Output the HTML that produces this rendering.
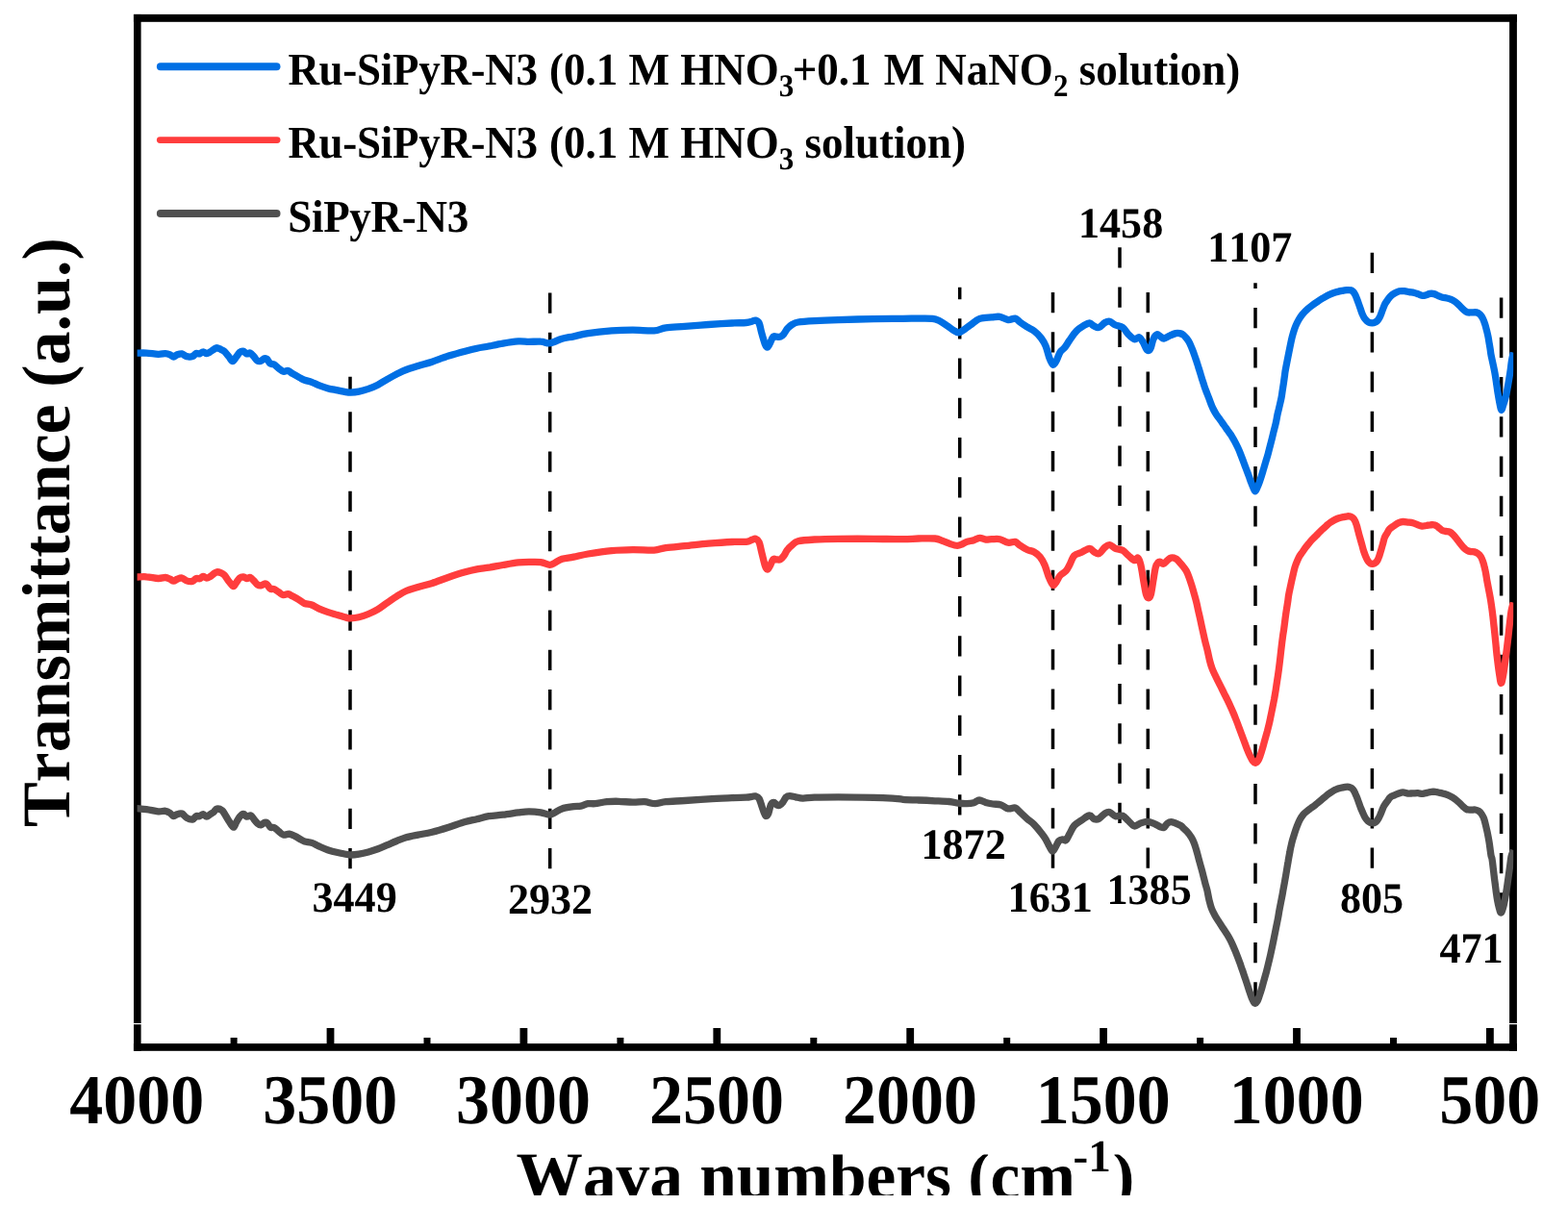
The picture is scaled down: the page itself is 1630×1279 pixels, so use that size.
<!DOCTYPE html>
<html lang="en"><head><meta charset="utf-8"><title>FTIR spectra</title>
<style>html,body{margin:0;padding:0;background:#fff;}body{width:1630px;height:1279px;overflow:hidden;}svg{display:block;}text{font-family:"Liberation Serif","DejaVu Serif",serif;font-weight:bold;fill:#000;font-kerning:none;font-variant-ligatures:none;text-rendering:geometricPrecision;white-space:pre;}</style></head><body>
<svg width="1630" height="1279" viewBox="0 0 1630 1279">
<rect width="1630" height="1279" fill="#fff"/>
<defs><clipPath id="plot"><rect x="142.6" y="19.0" width="1430.6" height="1070.2"/></clipPath><clipPath id="axclip"><rect x="0" y="1200.6" width="1630" height="42.4"/><rect x="1112" y="1175" width="43.5" height="40"/></clipPath></defs>
<g stroke="#000" stroke-width="3.5" stroke-dasharray="21.25 20.00" fill="none">
<line x1="364.0" y1="903.2" x2="364.0" y2="391.7"/>
<line x1="571.7" y1="903.2" x2="571.7" y2="303.6"/>
<line x1="997.7" y1="847.5" x2="997.7" y2="298.7"/>
<line x1="1094.5" y1="902.7" x2="1094.5" y2="303.6"/>
<line x1="1164.0" y1="856.0" x2="1164.0" y2="257.0"/>
<line x1="1193.3" y1="902.7" x2="1193.3" y2="302.9"/>
<line x1="1305.0" y1="1042.4" x2="1305.0" y2="294.3"/>
<line x1="1426.4" y1="902.7" x2="1426.4" y2="262.4"/>
<line x1="1560.6" y1="949.6" x2="1560.6" y2="309.0"/>
</g>
<g fill="#000">
<rect x="138.9" y="14.9" width="1438" height="7.9"/>
<rect x="138.9" y="1085.1" width="1438" height="7.7"/>
<rect x="139.0" y="14.9" width="7.6" height="1077.9"/>
<rect x="1569.1" y="14.9" width="7.8" height="1077.9"/>
<rect x="339.6" y="1069" width="7.8" height="18"/>
<rect x="540.5" y="1069" width="7.8" height="18"/>
<rect x="741.4" y="1069" width="7.8" height="18"/>
<rect x="942.3" y="1069" width="7.8" height="18"/>
<rect x="1143.2" y="1069" width="7.8" height="18"/>
<rect x="1344.1" y="1069" width="7.8" height="18"/>
<rect x="1545.0" y="1069" width="7.8" height="18"/>
<rect x="239.6" y="1079" width="7" height="8"/>
<rect x="440.5" y="1079" width="7" height="8"/>
<rect x="641.4" y="1079" width="7" height="8"/>
<rect x="842.3" y="1079" width="7" height="8"/>
<rect x="1043.2" y="1079" width="7" height="8"/>
<rect x="1244.1" y="1079" width="7" height="8"/>
<rect x="1445.0" y="1079" width="7" height="8"/>
</g>
<g fill="#fff"><rect x="138" y="1064" width="9" height="1.2"/><rect x="1568.5" y="1064" width="9" height="1.2"/></g>
<g fill="none" stroke-width="7.3" stroke-linejoin="round" stroke-linecap="butt" clip-path="url(#plot)">
<path stroke="#505050" d="M141.0,840.4C141.2,840.4 140.6,840.4 142.5,840.6C144.4,840.8 148.6,841.1 152.3,841.6C156.0,842.1 161.2,843.5 164.5,843.8C167.8,844.1 169.8,843.0 171.9,843.3C174.0,843.6 175.4,844.6 176.8,845.5C178.2,846.4 179.3,848.5 180.5,848.7C181.7,848.9 182.8,847.2 184.2,846.7C185.6,846.2 187.5,845.4 189.1,846.0C190.7,846.6 192.2,849.4 194.0,850.4C195.8,851.4 198.5,852.4 200.1,852.1C201.7,851.8 202.6,849.3 203.8,848.7C205.0,848.1 206.3,849.0 207.5,848.7C208.7,848.4 210.0,846.6 211.2,846.7C212.4,846.8 213.6,849.2 214.8,849.2C216.0,849.2 217.3,847.5 218.5,846.7C219.7,845.9 221.0,845.2 222.2,844.3C223.3,843.4 224.0,841.4 225.4,841.1C226.8,840.8 229.3,841.5 230.8,842.6C232.3,843.8 233.3,846.1 234.5,848.0C235.7,849.9 236.8,852.1 238.2,854.1C239.5,856.1 241.4,860.0 242.6,860.2C243.8,860.4 244.4,857.1 245.5,855.3C246.6,853.5 248.0,850.7 249.2,849.2C250.4,847.7 251.7,846.3 252.9,846.3C254.1,846.3 255.3,848.9 256.6,849.2C257.9,849.5 259.5,847.6 260.7,848.0C261.9,848.4 262.8,850.4 263.9,851.7C265.0,853.1 266.4,855.1 267.6,856.1C268.8,857.1 270.1,857.9 271.3,857.8C272.5,857.7 273.9,855.6 275.0,855.3C276.1,855.0 276.9,855.0 277.9,855.8C278.9,856.6 279.9,859.4 281.1,860.2C282.3,861.0 283.9,860.0 285.3,860.7C286.7,861.4 288.1,863.2 289.7,864.4C291.2,865.6 292.8,867.6 294.6,868.1C296.4,868.6 298.6,866.9 300.7,867.1C302.8,867.4 305.0,868.7 306.9,869.6C308.8,870.5 310.2,871.6 311.8,872.5C313.4,873.4 314.7,874.4 316.7,875.0C318.7,875.6 321.6,875.6 324.0,876.4C326.4,877.2 328.5,878.6 331.4,879.9C334.3,881.2 337.9,882.9 341.2,884.0C344.5,885.1 347.7,885.8 351.0,886.5C354.3,887.2 358.6,888.1 360.9,888.5C363.1,888.9 362.5,889.0 364.5,889.0C366.5,889.0 370.0,888.7 373.1,888.2C376.2,887.7 379.6,886.9 382.9,886.0C386.2,885.1 389.5,884.0 392.8,882.8C396.1,881.6 399.3,880.1 402.6,878.7C405.9,877.3 409.1,875.8 412.4,874.5C415.7,873.2 418.5,871.9 422.2,870.8C425.9,869.7 430.0,869.0 434.5,868.1C439.0,867.2 443.9,866.5 449.2,865.2C454.5,863.9 460.7,862.0 466.4,860.2C472.1,858.4 478.7,856.0 483.6,854.6C488.5,853.2 491.7,852.7 495.8,851.7C499.9,850.7 503.6,849.5 508.1,848.7C512.6,848.0 517.7,847.8 522.8,847.2C527.9,846.6 534.3,845.5 538.8,844.9C543.3,844.3 545.9,843.8 549.8,843.8C553.7,843.8 558.5,844.2 562.1,844.8C565.7,845.4 569.0,847.2 571.4,847.2C573.8,847.2 574.7,846.0 576.8,845.0C578.9,844.0 580.9,841.9 584.2,840.9C587.5,839.9 593.1,839.2 596.4,838.7C599.7,838.2 601.3,838.7 603.8,838.2C606.3,837.7 608.8,836.1 611.2,835.7C613.7,835.3 615.2,836.0 618.5,835.7C621.8,835.4 626.7,834.1 630.8,833.7C634.9,833.3 638.6,833.2 643.1,833.3C647.6,833.4 653.3,834.1 657.8,834.2C662.3,834.3 666.2,833.5 670.1,833.7C674.0,834.0 677.4,835.7 681.1,835.7C684.8,835.7 687.0,834.2 692.1,833.7C697.2,833.2 704.4,833.0 711.8,832.5C719.2,832.0 728.1,831.3 736.3,830.8C744.5,830.3 754.3,829.9 760.9,829.6C767.5,829.3 772.1,829.3 775.6,829.1C779.1,828.9 780.1,828.5 781.7,828.3C783.3,828.1 784.2,827.6 785.4,827.9C786.6,828.2 788.0,828.4 789.1,830.3C790.2,832.2 791.4,836.8 792.3,839.4C793.2,842.0 794.0,844.5 794.7,846.0C795.4,847.5 795.7,848.6 796.4,848.5C797.1,848.4 798.1,847.4 798.9,845.5C799.7,843.6 800.4,838.7 801.3,836.9C802.2,835.1 803.5,834.5 804.5,834.5C805.5,834.5 806.5,836.4 807.5,836.9C808.5,837.4 809.4,837.8 810.4,837.4C811.4,837.0 812.5,835.9 813.6,834.5C814.8,833.1 816.1,829.9 817.3,828.8C818.5,827.6 819.4,827.6 821.0,827.6C822.6,827.6 824.9,828.4 827.1,828.8C829.4,829.2 831.2,830.0 834.5,830.1C837.8,830.2 840.6,829.3 846.7,829.1C852.8,828.9 861.1,828.8 871.3,828.8C881.5,828.8 898.7,829.1 908.1,829.3C917.5,829.5 922.6,829.8 927.7,830.1C932.8,830.4 934.3,831.0 938.8,831.3C943.3,831.6 949.2,831.8 954.7,832.0C960.2,832.2 966.6,832.5 971.9,832.8C977.2,833.0 982.5,833.1 986.6,833.5C990.7,833.9 993.3,834.8 996.4,835.2C999.5,835.6 1002.3,835.8 1005.0,835.7C1007.7,835.6 1010.2,835.3 1012.4,834.7C1014.6,834.1 1016.0,832.0 1018.0,832.0C1020.0,832.0 1022.4,833.8 1024.7,834.5C1027.0,835.2 1029.3,835.6 1032.0,836.0C1034.7,836.4 1037.9,836.1 1040.6,836.9C1043.3,837.7 1045.5,840.4 1048.0,840.9C1050.5,841.4 1053.3,839.5 1055.3,840.1C1057.3,840.7 1058.2,842.4 1060.2,844.3C1062.2,846.1 1065.1,849.0 1067.6,851.2C1070.1,853.4 1072.5,854.8 1075.0,857.3C1077.5,859.8 1080.3,863.3 1082.3,865.9C1084.3,868.5 1085.8,870.4 1087.2,872.8C1088.6,875.2 1089.8,878.1 1090.9,880.1C1092.1,882.1 1093.1,884.8 1094.1,885.0C1095.1,885.2 1096.0,882.9 1097.1,881.1C1098.2,879.4 1099.5,875.9 1100.7,874.5C1101.9,873.1 1103.2,872.9 1104.4,872.8C1105.6,872.7 1106.9,874.7 1108.1,873.7C1109.3,872.8 1110.4,869.6 1111.8,867.1C1113.2,864.6 1114.7,860.8 1116.7,858.5C1118.7,856.2 1121.3,854.9 1124.0,853.1C1126.7,851.4 1130.3,848.2 1132.6,848.0C1134.8,847.8 1135.8,851.2 1137.5,851.7C1139.2,852.2 1140.7,852.2 1142.5,851.2C1144.3,850.2 1146.8,846.9 1148.6,845.8C1150.4,844.7 1151.7,844.0 1153.5,844.5C1155.3,845.0 1157.3,848.1 1159.6,848.7C1161.8,849.3 1164.8,847.4 1167.0,848.2C1169.2,849.0 1171.0,851.8 1173.1,853.6C1175.1,855.4 1177.2,858.6 1179.3,859.0C1181.3,859.4 1183.2,856.9 1185.4,856.1C1187.7,855.3 1190.3,854.3 1192.8,854.4C1195.2,854.5 1197.8,855.7 1200.1,856.6C1202.3,857.5 1204.7,859.1 1206.3,859.8C1207.9,860.4 1208.7,861.1 1209.9,860.5C1211.1,859.9 1212.2,857.1 1213.6,856.1C1215.0,855.1 1216.2,854.4 1218.5,854.8C1220.8,855.2 1225.6,857.6 1227.5,858.6C1229.4,859.6 1228.9,860.0 1230.0,861.0C1231.1,862.0 1232.5,863.1 1233.9,864.7C1235.3,866.3 1237.0,868.4 1238.3,870.4C1239.5,872.4 1240.5,874.6 1241.4,876.9C1242.3,879.2 1243.0,881.7 1243.8,884.4C1244.6,887.1 1245.3,890.1 1246.1,892.9C1246.9,895.7 1247.6,898.5 1248.4,901.3C1249.2,904.1 1250.0,907.0 1250.7,909.8C1251.4,912.6 1252.1,915.6 1252.8,918.2C1253.5,920.9 1254.2,922.8 1254.9,925.7C1255.6,928.6 1256.1,932.4 1256.9,935.6C1257.7,938.8 1258.5,942.2 1259.6,945.0C1260.7,947.8 1262.0,950.1 1263.3,952.5C1264.6,954.9 1266.1,956.9 1267.5,959.1C1268.9,961.3 1270.4,963.5 1271.8,965.7C1273.2,967.9 1274.7,970.0 1276.0,972.2C1277.3,974.4 1278.5,976.4 1279.7,978.8C1280.9,981.1 1281.9,983.8 1283.0,986.3C1284.1,988.8 1285.1,991.3 1286.1,993.8C1287.1,996.3 1288.0,998.8 1288.9,1001.3C1289.8,1003.8 1290.6,1006.3 1291.5,1008.8C1292.4,1011.3 1293.2,1013.9 1294.1,1016.4C1294.9,1018.9 1295.8,1021.4 1296.6,1023.9C1297.4,1026.4 1298.2,1029.1 1299.0,1031.4C1299.8,1033.7 1300.6,1036.2 1301.3,1037.9C1302.0,1039.6 1302.7,1040.8 1303.2,1041.7C1303.8,1042.6 1304.0,1043.5 1304.6,1043.4C1305.2,1043.3 1306.2,1042.6 1307.0,1041.2C1307.8,1039.8 1308.5,1037.4 1309.3,1035.1C1310.1,1032.8 1310.9,1030.2 1311.7,1027.6C1312.5,1024.9 1313.2,1022.0 1314.0,1019.2C1314.8,1016.4 1315.6,1013.7 1316.4,1010.7C1317.2,1007.7 1318.0,1004.4 1318.7,1001.3C1319.5,998.2 1320.2,995.1 1320.9,992.0C1321.6,988.9 1322.2,985.7 1322.9,982.6C1323.6,979.5 1324.2,976.3 1324.8,973.2C1325.4,970.1 1326.1,966.9 1326.7,963.8C1327.3,960.7 1328.0,957.5 1328.6,954.4C1329.2,951.3 1329.5,948.5 1330.2,945.0C1330.9,941.5 1331.8,936.8 1332.5,933.3C1333.2,929.8 1333.6,927.0 1334.2,923.9C1334.8,920.8 1335.4,917.6 1335.9,914.5C1336.5,911.4 1337.0,908.2 1337.5,905.1C1338.0,902.0 1338.5,898.8 1339.1,895.7C1339.6,892.6 1340.3,888.8 1340.8,886.3C1341.2,883.8 1341.3,883.1 1341.8,881.0C1342.3,878.9 1342.9,876.1 1343.6,873.6C1344.3,871.1 1345.0,868.8 1345.8,866.3C1346.6,863.8 1347.5,861.2 1348.4,858.9C1349.3,856.6 1350.2,854.3 1351.3,852.3C1352.3,850.3 1353.5,848.6 1354.7,847.1C1355.9,845.6 1357.3,844.6 1358.7,843.4C1360.1,842.2 1361.6,841.2 1363.1,840.1C1364.6,839.0 1366.0,838.0 1367.5,836.8C1369.0,835.6 1370.5,834.3 1372.0,833.1C1373.5,831.9 1374.9,830.6 1376.4,829.4C1377.9,828.2 1379.3,826.9 1380.8,825.8C1382.3,824.7 1383.7,823.7 1385.2,822.8C1386.7,821.9 1388.1,821.2 1389.6,820.6C1391.1,820.0 1392.5,819.7 1394.0,819.3C1395.5,818.9 1397.2,818.6 1398.5,818.4C1399.8,818.2 1401.0,818.1 1402.1,818.3C1403.2,818.5 1404.2,818.9 1405.1,819.5C1406.0,820.1 1406.6,821.1 1407.3,822.1C1408.0,823.1 1408.5,824.4 1409.1,825.8C1409.7,827.1 1410.4,828.6 1411.0,830.2C1411.6,831.8 1412.2,833.6 1412.8,835.3C1413.4,837.0 1414.0,838.8 1414.7,840.5C1415.4,842.2 1416.2,844.0 1416.9,845.6C1417.6,847.2 1418.3,848.8 1419.1,850.1C1419.9,851.4 1420.8,852.5 1421.7,853.4C1422.6,854.2 1423.4,854.8 1424.2,855.2C1425.0,855.6 1425.7,855.6 1426.4,855.7C1427.2,855.8 1428.0,855.9 1428.7,855.6C1429.5,855.3 1430.2,854.9 1430.9,854.1C1431.6,853.3 1432.4,852.0 1433.1,850.8C1433.8,849.6 1434.3,848.5 1434.9,847.1C1435.5,845.8 1436.1,844.2 1436.7,842.7C1437.3,841.2 1437.7,839.9 1438.6,838.3C1439.5,836.7 1441.1,834.6 1442.2,833.1C1443.3,831.6 1444.0,830.1 1445.2,829.1C1446.4,828.1 1448.1,827.6 1449.6,826.9C1451.1,826.2 1452.5,825.5 1454.0,825.0C1455.5,824.5 1456.8,823.9 1458.4,823.9C1460.0,823.9 1461.9,824.8 1463.6,825.0C1465.3,825.2 1467.0,824.9 1468.7,824.9C1470.4,824.9 1472.2,824.6 1473.9,824.7C1475.6,824.8 1477.4,825.5 1479.0,825.4C1480.6,825.3 1481.9,824.6 1483.4,824.3C1484.9,824.0 1486.4,823.5 1487.9,823.4C1489.4,823.2 1490.8,823.2 1492.3,823.4C1493.8,823.5 1495.2,824.0 1496.7,824.3C1498.2,824.6 1499.6,825.0 1501.1,825.4C1502.6,825.8 1504.0,826.3 1505.5,826.9C1507.0,827.5 1508.6,828.3 1509.9,829.1C1511.2,829.9 1512.4,830.7 1513.6,831.7C1514.8,832.7 1516.1,833.8 1517.3,835.0C1518.5,836.2 1519.8,837.6 1521.0,838.7C1522.2,839.8 1523.4,841.0 1524.7,841.6C1526.0,842.2 1527.6,842.0 1529.1,842.1C1530.6,842.2 1532.2,841.8 1533.5,842.0C1534.8,842.2 1536.1,842.7 1537.2,843.4C1538.3,844.1 1539.2,845.0 1540.1,846.4C1541.0,847.8 1542.0,849.5 1542.7,851.5C1543.4,853.5 1544.0,856.0 1544.5,858.2C1545.0,860.4 1545.5,862.6 1546.0,864.8C1546.5,867.0 1546.9,869.2 1547.3,871.4C1547.7,873.6 1548.1,875.8 1548.4,878.0C1548.7,880.2 1549.0,882.7 1549.3,884.7C1549.6,886.7 1549.8,888.6 1550.1,890.0C1550.4,891.4 1550.7,891.1 1551.0,893.0C1551.3,894.9 1551.8,898.7 1552.1,901.6C1552.4,904.5 1552.8,907.3 1553.1,910.2C1553.4,913.1 1553.8,915.9 1554.2,918.8C1554.6,921.7 1554.9,924.5 1555.3,927.4C1555.7,930.3 1556.1,933.3 1556.6,936.0C1557.1,938.7 1557.7,941.5 1558.3,943.7C1558.9,945.9 1559.6,949.2 1560.3,949.2C1561.0,949.2 1561.9,945.9 1562.6,943.7C1563.3,941.5 1563.8,938.7 1564.3,936.0C1564.8,933.3 1565.3,930.3 1565.8,927.4C1566.3,924.5 1566.7,921.7 1567.1,918.8C1567.5,915.9 1567.9,913.1 1568.3,910.2C1568.7,907.3 1569.1,904.5 1569.5,901.6C1569.9,898.7 1570.3,895.1 1570.6,893.0C1570.9,890.9 1571.0,890.5 1571.5,889.0C1572.0,887.5 1573.0,884.8 1573.3,884.0"/>
<path stroke="#ff3d3d" d="M141.0,600.0C141.2,600.0 140.6,600.0 142.5,600.0C144.4,600.0 148.6,599.5 152.3,599.8C156.0,600.0 161.2,601.4 164.5,601.5C167.8,601.6 169.8,600.4 171.9,600.5C174.0,600.6 175.4,601.6 176.8,602.2C178.2,602.8 179.3,604.2 180.5,604.2C181.7,604.2 182.8,602.7 184.2,602.2C185.6,601.7 187.5,600.7 189.1,601.0C190.7,601.3 192.2,603.3 194.0,603.9C195.8,604.5 198.5,604.8 200.1,604.4C201.7,604.0 202.6,602.0 203.8,601.5C205.0,601.0 206.3,602.0 207.5,601.7C208.7,601.4 210.0,599.6 211.2,599.5C212.4,599.4 213.6,601.0 214.8,601.0C216.0,601.0 217.3,600.2 218.5,599.5C219.7,598.8 221.0,597.4 222.2,596.6C223.3,595.8 224.2,595.0 225.4,594.8C226.6,594.6 228.3,595.1 229.6,595.6C230.9,596.1 231.9,596.5 233.3,598.0C234.7,599.5 236.6,603.0 238.2,604.9C239.8,606.8 241.4,609.4 242.6,609.6C243.8,609.8 244.4,607.3 245.5,605.9C246.6,604.5 248.0,602.0 249.2,601.0C250.4,600.0 251.7,599.7 252.9,599.8C254.1,599.9 255.4,601.4 256.6,601.5C257.8,601.6 259.0,600.1 260.2,600.5C261.4,600.9 262.7,602.7 263.9,603.9C265.1,605.1 266.4,607.1 267.6,607.9C268.8,608.7 270.1,608.9 271.3,608.8C272.5,608.7 274.0,607.3 275.0,607.1C276.0,606.9 276.4,606.7 277.4,607.6C278.4,608.5 279.9,611.5 281.1,612.3C282.3,613.1 283.4,611.9 284.8,612.5C286.2,613.1 288.1,614.7 289.7,615.7C291.3,616.7 293.0,618.4 294.6,618.7C296.2,619.0 297.9,617.5 299.5,617.7C301.1,617.9 302.3,619.0 304.4,620.1C306.4,621.2 309.8,623.1 311.8,624.3C313.9,625.5 314.7,626.7 316.7,627.5C318.7,628.3 321.6,628.1 324.0,629.0C326.4,629.9 328.5,631.6 331.4,632.9C334.3,634.2 337.9,635.5 341.2,636.6C344.5,637.7 347.7,638.5 351.0,639.5C354.3,640.5 358.6,641.9 360.9,642.5C363.1,643.1 362.5,643.0 364.5,642.9C366.5,642.8 370.0,642.4 373.1,641.7C376.2,641.0 379.6,639.9 382.9,638.5C386.2,637.1 389.5,635.6 392.8,633.6C396.1,631.6 399.3,629.0 402.6,626.7C405.9,624.5 409.1,622.1 412.4,620.1C415.7,618.1 418.5,616.1 422.2,614.5C425.9,612.9 430.0,612.0 434.5,610.6C439.0,609.2 443.9,608.1 449.2,606.4C454.5,604.7 460.7,602.1 466.4,600.2C472.1,598.3 478.7,596.2 483.6,594.8C488.5,593.4 491.7,592.7 495.8,591.9C499.9,591.1 503.6,590.9 508.1,590.2C512.6,589.5 517.7,588.4 522.8,587.5C527.9,586.6 534.3,585.4 538.8,584.9C543.3,584.4 545.9,584.4 549.8,584.4C553.7,584.4 558.5,584.1 562.1,584.6C565.7,585.1 569.0,587.2 571.4,587.3C573.8,587.4 574.7,586.3 576.8,585.3C578.9,584.3 580.9,582.2 584.2,581.2C587.5,580.2 591.9,580.1 596.4,579.2C600.9,578.3 604.7,577.1 611.2,576.0C617.8,574.9 627.9,573.3 635.7,572.6C643.5,571.9 650.4,571.7 657.8,571.6C665.2,571.5 674.2,572.4 679.9,572.1C685.6,571.8 686.8,570.3 692.1,569.6C697.4,568.9 704.4,568.4 711.8,567.7C719.2,567.0 728.1,565.9 736.3,565.2C744.5,564.5 754.3,563.8 760.9,563.5C767.5,563.2 772.1,563.7 775.6,563.3C779.1,562.9 780.1,561.8 781.7,561.3C783.3,560.8 784.2,559.9 785.4,560.3C786.6,560.7 788.1,561.6 789.1,563.7C790.1,565.8 790.5,569.1 791.5,573.1C792.5,577.1 794.2,584.6 795.2,587.8C796.2,590.9 796.9,591.8 797.7,592.0C798.5,592.2 799.1,590.7 800.1,589.0C801.1,587.3 802.6,582.9 803.8,581.7C805.0,580.5 806.3,581.9 807.5,581.9C808.7,581.9 810.0,582.4 811.2,581.7C812.4,581.1 813.6,579.6 814.8,578.0C816.0,576.4 817.1,573.6 818.5,571.8C819.9,569.9 821.5,568.4 823.4,566.9C825.2,565.4 825.7,563.8 829.6,562.8C833.5,561.8 839.8,561.4 846.7,561.0C853.7,560.6 861.1,560.4 871.3,560.3C881.5,560.2 896.9,560.2 908.1,560.3C919.4,560.4 931.0,560.8 938.8,560.7C946.6,560.7 949.2,560.1 954.7,560.0C960.2,559.9 967.8,559.6 971.9,560.0C976.0,560.4 976.6,561.3 979.3,562.2C982.0,563.1 985.2,564.7 987.9,565.6C990.5,566.5 993.2,567.4 995.2,567.4C997.2,567.4 998.5,566.6 1000.1,565.9C1001.7,565.2 1003.0,564.1 1005.0,563.4C1007.0,562.7 1010.1,562.4 1012.4,561.7C1014.6,561.0 1016.5,559.4 1018.5,559.3C1020.5,559.2 1022.7,560.8 1024.7,561.0C1026.8,561.2 1028.3,560.8 1030.8,560.7C1033.2,560.7 1036.5,560.1 1039.4,560.7C1042.3,561.3 1045.3,563.8 1048.0,564.2C1050.7,564.7 1053.3,562.9 1055.3,563.4C1057.3,563.9 1058.2,565.8 1060.2,567.1C1062.2,568.5 1065.1,570.4 1067.6,571.5C1070.1,572.6 1072.8,572.8 1075.0,574.0C1077.2,575.2 1079.3,576.6 1081.1,578.9C1082.9,581.1 1084.5,584.0 1086.0,587.5C1087.5,591.0 1088.8,596.3 1090.2,599.8C1091.6,603.3 1093.2,607.5 1094.6,608.3C1095.9,609.1 1097.1,606.3 1098.3,604.7C1099.5,603.1 1100.4,600.4 1102.0,598.5C1103.6,596.6 1106.5,595.4 1108.1,593.6C1109.7,591.8 1110.4,590.1 1111.8,587.5C1113.2,584.9 1114.7,579.9 1116.7,577.7C1118.7,575.5 1121.3,575.7 1124.0,574.5C1126.7,573.3 1130.3,570.4 1132.6,570.3C1134.8,570.2 1135.8,573.1 1137.5,574.0C1139.2,574.9 1140.7,576.5 1142.5,575.7C1144.3,574.9 1146.8,570.6 1148.6,569.1C1150.4,567.6 1151.7,566.4 1153.5,566.6C1155.3,566.8 1157.3,569.3 1159.6,570.3C1161.8,571.2 1164.8,571.1 1167.0,572.3C1169.2,573.5 1171.0,576.0 1173.1,577.7C1175.1,579.4 1177.7,582.2 1179.3,582.6C1180.9,583.0 1181.8,579.3 1182.9,580.1C1184.0,580.9 1184.9,583.2 1185.9,587.5C1186.9,591.8 1188.2,600.8 1189.1,605.9C1190.0,611.0 1190.7,615.6 1191.5,618.2C1192.3,620.9 1193.2,621.8 1194.0,621.8C1194.8,621.8 1195.6,621.3 1196.4,618.2C1197.2,615.1 1198.1,608.1 1198.9,603.4C1199.7,598.7 1200.5,593.0 1201.3,589.9C1202.1,586.8 1203.0,585.9 1203.8,585.0C1204.6,584.1 1205.4,584.1 1206.3,584.3C1207.2,584.5 1208.2,586.6 1209.4,586.3C1210.6,586.0 1212.3,583.6 1213.6,582.6C1214.9,581.6 1215.9,580.4 1217.3,580.1C1218.7,579.8 1220.8,580.2 1222.2,580.9C1223.7,581.6 1224.7,583.0 1226.0,584.4C1227.3,585.8 1228.8,587.5 1230.0,589.1C1231.2,590.7 1232.3,591.9 1233.3,593.8C1234.3,595.7 1235.2,597.9 1236.1,600.4C1237.0,602.9 1238.0,606.0 1238.9,608.8C1239.8,611.6 1240.5,614.5 1241.3,617.3C1242.1,620.1 1242.9,622.9 1243.6,625.7C1244.3,628.5 1244.9,631.4 1245.5,634.2C1246.1,637.0 1246.8,639.8 1247.4,642.6C1248.0,645.4 1248.6,648.2 1249.2,651.0C1249.8,653.8 1250.5,656.7 1251.1,659.5C1251.7,662.3 1252.3,665.1 1253.0,667.9C1253.7,670.7 1254.4,673.1 1255.2,676.4C1256.0,679.7 1256.9,684.4 1257.7,687.5C1258.5,690.6 1259.1,692.6 1260.0,695.0C1260.9,697.4 1261.9,699.4 1262.9,701.6C1263.9,703.8 1265.0,706.0 1266.1,708.2C1267.2,710.4 1268.3,712.5 1269.4,714.7C1270.5,716.9 1271.6,719.1 1272.7,721.3C1273.8,723.5 1274.9,725.6 1276.0,727.9C1277.1,730.2 1278.2,732.5 1279.3,734.9C1280.4,737.2 1281.4,739.6 1282.4,742.0C1283.4,744.4 1284.4,747.0 1285.4,749.5C1286.4,752.0 1287.3,754.5 1288.2,757.0C1289.1,759.5 1290.1,762.0 1291.0,764.5C1291.9,767.0 1292.9,769.5 1293.8,772.0C1294.7,774.5 1295.6,777.1 1296.6,779.5C1297.5,781.9 1298.5,784.1 1299.5,786.1C1300.5,788.1 1301.4,790.0 1302.3,791.2C1303.2,792.4 1304.0,793.5 1304.9,793.4C1305.8,793.3 1307.0,792.2 1307.9,790.8C1308.8,789.4 1309.5,787.3 1310.3,785.1C1311.1,782.9 1311.8,780.2 1312.6,777.6C1313.4,775.0 1314.1,772.0 1314.9,769.2C1315.7,766.4 1316.5,763.5 1317.3,760.7C1318.0,757.9 1318.8,755.1 1319.4,752.3C1320.1,749.5 1320.6,746.6 1321.2,743.8C1321.8,741.0 1322.3,738.2 1322.9,735.4C1323.5,732.6 1324.0,729.9 1324.6,726.9C1325.1,723.9 1325.7,720.6 1326.2,717.5C1326.7,714.4 1327.1,711.3 1327.6,708.2C1328.1,705.1 1328.6,701.9 1329.0,698.8C1329.4,695.7 1329.5,695.3 1330.2,689.4C1330.9,683.5 1332.5,669.2 1333.3,663.3C1334.0,657.4 1334.3,657.0 1334.7,653.9C1335.1,650.8 1335.5,647.6 1335.9,644.5C1336.3,641.4 1336.7,638.2 1337.2,635.1C1337.7,632.0 1338.2,628.8 1338.7,625.7C1339.2,622.6 1339.0,621.6 1340.1,616.3C1341.2,610.9 1343.9,598.6 1345.1,593.6C1346.3,588.6 1346.4,588.6 1347.3,586.3C1348.2,584.0 1349.2,581.6 1350.2,579.6C1351.2,577.6 1352.4,576.2 1353.6,574.5C1354.8,572.8 1355.9,571.0 1357.2,569.3C1358.5,567.6 1360.0,565.8 1361.3,564.2C1362.6,562.6 1363.9,561.3 1365.3,559.8C1366.7,558.3 1368.3,556.8 1369.8,555.3C1371.3,553.8 1372.7,552.3 1374.2,550.9C1375.7,549.5 1377.1,548.2 1378.6,546.9C1380.1,545.6 1381.5,544.2 1383.0,543.2C1384.5,542.2 1385.9,541.3 1387.4,540.6C1388.9,539.9 1390.3,539.3 1391.8,538.8C1393.3,538.3 1394.8,538.0 1396.3,537.7C1397.8,537.4 1399.5,536.9 1400.7,536.8C1401.9,536.7 1402.6,536.8 1403.6,537.1C1404.6,537.4 1405.7,538.0 1406.6,538.8C1407.5,539.6 1408.1,540.7 1408.8,542.1C1409.5,543.5 1410.0,545.4 1410.6,547.2C1411.1,549.0 1411.5,551.0 1412.1,553.1C1412.6,555.2 1413.3,557.6 1413.9,559.8C1414.5,562.0 1415.2,564.2 1415.8,566.4C1416.4,568.6 1416.9,570.9 1417.6,573.0C1418.3,575.1 1419.1,577.2 1419.8,578.9C1420.5,580.6 1421.2,582.1 1422.0,583.3C1422.8,584.5 1423.8,585.4 1424.6,585.9C1425.4,586.4 1426.0,586.4 1426.8,586.3C1427.6,586.2 1428.5,586.1 1429.4,585.5C1430.3,584.9 1431.3,583.8 1432.0,582.6C1432.7,581.4 1433.2,579.9 1433.8,578.2C1434.4,576.5 1435.0,574.4 1435.6,572.3C1436.2,570.2 1436.9,567.8 1437.5,565.6C1438.1,563.4 1438.6,560.8 1439.3,559.0C1440.0,557.2 1440.9,556.1 1441.8,554.6C1442.7,553.1 1443.2,551.5 1444.4,550.2C1445.6,548.9 1447.2,548.0 1448.8,546.9C1450.4,545.8 1452.4,544.3 1454.0,543.6C1455.6,542.9 1456.8,542.6 1458.4,542.5C1460.0,542.4 1461.9,542.8 1463.6,543.0C1465.3,543.2 1467.1,543.3 1468.7,543.7C1470.3,544.1 1471.5,544.8 1473.1,545.4C1474.7,546.0 1476.7,546.9 1478.3,547.1C1479.9,547.3 1481.2,546.7 1482.7,546.5C1484.2,546.3 1485.6,545.9 1487.1,545.8C1488.6,545.7 1490.2,545.5 1491.5,545.9C1492.8,546.3 1494.0,547.4 1495.2,548.3C1496.4,549.2 1497.7,550.6 1498.9,551.3C1500.1,552.0 1501.2,552.1 1502.6,552.4C1503.9,552.7 1505.7,552.5 1507.0,553.1C1508.3,553.7 1509.5,554.9 1510.7,556.1C1511.9,557.3 1513.2,559.0 1514.4,560.5C1515.6,562.0 1516.8,563.8 1518.0,565.3C1519.2,566.8 1520.5,568.5 1521.7,569.7C1522.9,570.9 1524.2,572.0 1525.4,572.6C1526.6,573.2 1527.9,573.4 1529.1,573.6C1530.3,573.8 1531.6,573.6 1532.8,573.9C1534.0,574.2 1535.3,574.8 1536.4,575.6C1537.5,576.4 1538.5,577.5 1539.4,578.9C1540.3,580.3 1540.9,582.0 1541.6,584.0C1542.3,586.0 1542.9,588.4 1543.4,590.7C1544.0,593.0 1544.5,595.7 1544.9,598.0C1545.3,600.3 1545.3,601.0 1546.0,604.7C1546.7,608.5 1548.2,616.2 1549.0,620.5C1549.8,624.8 1550.1,627.3 1550.6,630.7C1551.1,634.1 1551.5,637.4 1551.9,640.8C1552.3,644.2 1552.6,647.6 1553.0,651.0C1553.4,654.4 1553.8,657.8 1554.1,661.2C1554.4,664.6 1554.8,667.9 1555.1,671.3C1555.4,674.7 1555.7,678.1 1556.1,681.5C1556.5,684.9 1556.9,688.4 1557.3,691.6C1557.7,694.8 1558.1,697.7 1558.6,700.8C1559.1,703.9 1559.8,710.2 1560.5,710.4C1561.2,710.6 1562.1,704.9 1562.7,701.8C1563.3,698.7 1563.7,695.0 1564.2,691.6C1564.7,688.2 1565.1,684.9 1565.5,681.5C1565.9,678.1 1566.4,674.7 1566.8,671.3C1567.2,667.9 1567.6,664.6 1568.0,661.2C1568.4,657.8 1568.7,654.4 1569.1,651.0C1569.5,647.6 1569.9,643.6 1570.3,640.8C1570.7,638.0 1570.8,636.4 1571.3,634.0C1571.8,631.6 1573.0,627.8 1573.3,626.5"/>
<path stroke="#006fe4" d="M141.0,367.1C141.2,367.1 140.6,367.1 142.5,367.1C144.4,367.1 148.6,366.9 152.3,367.1C156.0,367.3 161.2,368.2 164.5,368.3C167.8,368.4 169.8,367.5 171.9,367.6C174.0,367.7 175.4,368.2 176.8,368.8C178.2,369.4 179.3,371.0 180.5,371.0C181.7,371.0 182.8,369.3 184.2,368.8C185.6,368.3 187.5,367.6 189.1,367.9C190.7,368.2 192.2,370.2 194.0,370.6C195.8,371.1 198.5,371.1 200.1,370.6C201.7,370.1 202.6,367.8 203.8,367.4C205.0,366.9 206.3,368.1 207.5,367.9C208.7,367.6 210.0,365.9 211.2,365.9C212.4,365.8 213.6,367.6 214.8,367.6C216.0,367.6 217.3,366.6 218.5,365.9C219.7,365.2 221.0,364.1 222.2,363.4C223.3,362.7 224.2,361.7 225.4,361.7C226.6,361.7 228.3,362.8 229.6,363.4C230.9,364.0 231.9,364.1 233.3,365.4C234.7,366.7 236.8,369.6 238.2,371.3C239.6,373.0 240.6,375.7 241.8,375.7C243.0,375.7 244.3,372.9 245.5,371.3C246.7,369.8 248.0,367.4 249.2,366.4C250.4,365.4 251.7,364.9 252.9,365.2C254.1,365.4 255.4,367.6 256.6,367.9C257.8,368.2 259.0,366.6 260.2,367.1C261.4,367.6 262.7,369.5 263.9,370.8C265.1,372.1 266.4,374.5 267.6,375.2C268.8,375.9 270.1,375.6 271.3,375.2C272.5,374.8 274.0,373.1 275.0,372.8C276.0,372.5 276.4,372.4 277.4,373.3C278.4,374.2 279.9,377.3 281.1,378.2C282.3,379.1 283.4,378.1 284.8,378.9C286.2,379.7 288.1,381.9 289.7,383.1C291.3,384.3 293.0,385.9 294.6,386.3C296.2,386.7 297.9,385.1 299.5,385.5C301.1,385.9 302.3,387.5 304.4,388.7C306.4,389.9 309.8,391.8 311.8,392.9C313.9,394.0 314.7,394.6 316.7,395.3C318.7,396.0 321.6,396.4 324.0,397.3C326.4,398.2 328.5,399.6 331.4,400.7C334.3,401.8 337.9,403.0 341.2,403.9C344.5,404.8 347.7,405.2 351.0,405.9C354.3,406.6 358.6,407.5 360.9,407.9C363.1,408.3 362.5,408.2 364.5,408.1C366.5,408.0 370.0,407.7 373.1,407.1C376.2,406.5 379.6,405.5 382.9,404.4C386.2,403.2 389.5,401.9 392.8,400.2C396.1,398.5 399.3,396.3 402.6,394.4C405.9,392.5 409.1,390.6 412.4,389.0C415.7,387.4 418.5,385.9 422.2,384.5C425.9,383.1 430.0,382.0 434.5,380.6C439.0,379.2 443.9,377.9 449.2,376.2C454.5,374.4 460.7,371.9 466.4,370.1C472.1,368.3 478.7,366.5 483.6,365.2C488.5,363.9 491.7,363.1 495.8,362.2C499.9,361.3 503.6,360.9 508.1,360.0C512.6,359.1 517.7,358.0 522.8,357.1C527.9,356.2 534.3,355.2 538.8,354.9C543.3,354.6 545.9,355.3 549.8,355.4C553.7,355.4 558.6,354.9 562.1,355.2C565.6,355.4 568.2,356.9 570.7,356.9C573.2,356.9 574.5,356.0 576.8,355.2C579.0,354.4 580.9,353.1 584.2,352.2C587.5,351.3 591.9,350.7 596.4,349.8C600.9,348.9 604.7,347.6 611.2,346.6C617.8,345.6 627.9,344.5 635.7,343.9C643.5,343.3 650.4,343.1 657.8,343.1C665.2,343.1 674.2,344.3 679.9,343.9C685.6,343.5 686.8,341.6 692.1,340.9C697.4,340.1 704.4,340.0 711.8,339.4C719.2,338.8 728.1,338.1 736.3,337.5C744.5,336.9 754.3,336.3 760.9,336.0C767.5,335.7 772.1,335.8 775.6,335.5C779.1,335.2 780.1,334.7 781.7,334.3C783.3,333.9 784.2,332.8 785.4,333.1C786.6,333.4 788.1,334.0 789.1,336.0C790.1,338.0 790.5,341.7 791.5,345.3C792.5,348.9 794.2,355.0 795.2,357.6C796.2,360.2 796.9,361.0 797.7,361.0C798.5,361.0 799.1,359.4 800.1,357.6C801.1,355.8 802.6,351.4 803.8,350.2C805.0,349.0 806.3,350.2 807.5,350.2C808.7,350.2 810.0,350.7 811.2,350.2C812.4,349.7 813.6,348.7 814.8,347.3C816.0,345.9 817.1,343.3 818.5,341.7C819.9,340.1 821.5,338.6 823.4,337.5C825.2,336.4 825.7,335.6 829.6,335.0C833.5,334.4 839.8,334.0 846.7,333.6C853.7,333.2 861.1,332.9 871.3,332.6C881.5,332.3 896.9,331.8 908.1,331.6C919.4,331.4 931.0,331.5 938.8,331.4C946.6,331.3 949.6,331.1 954.7,331.1C959.8,331.1 965.7,330.9 969.4,331.3C973.1,331.8 974.3,332.6 976.8,333.8C979.3,335.0 981.8,336.9 984.2,338.5C986.7,340.1 989.5,342.4 991.5,343.6C993.5,344.8 994.8,345.8 996.4,345.8C998.0,345.8 999.2,344.7 1001.3,343.4C1003.3,342.1 1005.8,340.0 1008.7,338.0C1011.6,336.0 1014.8,332.7 1018.5,331.3C1022.2,329.9 1027.3,330.2 1030.8,329.9C1034.3,329.6 1036.5,328.9 1039.4,329.4C1042.3,329.8 1045.3,332.3 1048.0,332.6C1050.7,332.9 1053.3,330.7 1055.3,331.1C1057.3,331.5 1058.2,333.3 1060.2,334.8C1062.2,336.3 1065.1,338.3 1067.6,339.9C1070.1,341.4 1072.5,342.2 1075.0,344.1C1077.5,346.0 1080.3,348.8 1082.3,351.5C1084.3,354.2 1085.8,356.6 1087.2,360.1C1088.6,363.6 1089.7,369.1 1090.9,372.3C1092.1,375.5 1093.4,378.8 1094.6,379.2C1095.8,379.6 1097.1,377.0 1098.3,374.8C1099.5,372.6 1100.6,368.4 1102.0,366.2C1103.4,363.9 1105.3,363.4 1106.9,361.3C1108.5,359.2 1109.8,356.8 1111.8,353.9C1113.8,351.0 1116.6,346.6 1119.1,344.1C1121.5,341.6 1124.2,340.1 1126.5,338.7C1128.8,337.3 1130.8,335.9 1132.6,336.0C1134.4,336.1 1135.8,338.5 1137.5,339.2C1139.2,339.9 1140.7,341.0 1142.5,340.4C1144.3,339.8 1146.8,336.5 1148.6,335.5C1150.4,334.5 1151.7,333.9 1153.5,334.3C1155.3,334.7 1157.3,337.0 1159.6,338.0C1161.8,339.0 1164.8,338.8 1167.0,340.4C1169.2,342.0 1171.0,345.8 1173.1,347.8C1175.1,349.9 1177.4,352.2 1179.3,352.7C1181.2,353.2 1182.8,350.3 1184.2,350.7C1185.6,351.1 1186.7,353.2 1187.9,355.2C1189.1,357.2 1190.5,360.9 1191.5,362.5C1192.5,364.1 1193.2,364.7 1194.0,364.5C1194.8,364.3 1195.6,363.3 1196.4,361.3C1197.2,359.3 1197.9,354.9 1198.9,352.7C1199.9,350.4 1201.4,348.3 1202.6,347.8C1203.8,347.3 1205.1,349.1 1206.3,349.8C1207.5,350.5 1208.3,352.1 1209.9,352.0C1211.5,351.9 1214.0,349.9 1216.1,349.0C1218.1,348.1 1220.5,347.0 1222.2,346.6C1223.9,346.2 1225.2,346.4 1226.5,346.6C1227.8,346.9 1228.9,347.3 1230.0,348.1C1231.1,348.9 1232.0,350.0 1233.1,351.3C1234.1,352.6 1235.3,354.2 1236.3,356.0C1237.3,357.8 1238.1,360.0 1239.0,362.2C1239.9,364.4 1240.9,366.9 1241.7,369.3C1242.5,371.7 1243.4,374.1 1244.1,376.3C1244.8,378.5 1245.3,380.4 1246.0,382.5C1246.7,384.6 1247.3,386.7 1248.0,388.8C1248.7,390.9 1249.2,393.0 1249.9,395.1C1250.6,397.2 1251.2,399.2 1251.9,401.3C1252.6,403.4 1253.4,405.5 1254.2,407.6C1255.0,409.7 1255.8,411.7 1256.6,413.8C1257.4,415.9 1258.1,418.1 1258.9,420.0C1259.7,421.9 1260.4,423.7 1261.3,425.5C1262.2,427.3 1263.2,429.1 1264.4,430.9C1265.6,432.7 1267.0,434.6 1268.3,436.4C1269.6,438.2 1270.9,440.1 1272.2,441.9C1273.5,443.7 1274.8,445.6 1276.1,447.4C1277.4,449.2 1278.8,450.9 1280.0,452.8C1281.2,454.8 1282.5,457.0 1283.6,459.1C1284.7,461.2 1285.7,463.2 1286.7,465.3C1287.7,467.4 1288.6,469.5 1289.4,471.6C1290.2,473.7 1291.0,475.8 1291.8,477.9C1292.6,480.0 1293.3,482.0 1294.1,484.1C1294.9,486.2 1295.7,488.3 1296.5,490.4C1297.3,492.5 1298.1,494.7 1298.8,496.6C1299.5,498.6 1300.1,500.4 1300.8,502.1C1301.5,503.8 1302.0,505.4 1302.7,506.8C1303.4,508.2 1304.1,510.8 1304.8,510.8C1305.5,510.8 1306.3,508.2 1307.0,506.8C1307.7,505.4 1308.3,504.1 1309.0,502.1C1309.7,500.2 1310.5,497.6 1311.3,495.1C1312.1,492.6 1312.9,489.8 1313.7,487.2C1314.5,484.6 1315.2,482.0 1316.0,479.4C1316.8,476.8 1317.6,474.2 1318.3,471.6C1319.0,469.0 1319.6,466.4 1320.3,463.8C1321.0,461.2 1321.6,458.6 1322.3,456.0C1323.0,453.4 1323.5,450.7 1324.2,448.1C1324.9,445.5 1325.6,442.9 1326.2,440.3C1326.8,437.7 1327.2,435.1 1327.7,432.5C1328.2,429.9 1328.8,427.8 1329.5,424.7C1330.2,421.6 1331.4,416.9 1332.0,413.8C1332.6,410.7 1332.8,408.6 1333.2,406.0C1333.6,403.4 1334.0,400.8 1334.4,398.2C1334.8,395.6 1335.1,393.0 1335.5,390.4C1335.9,387.8 1335.5,388.6 1336.7,382.5C1337.9,376.4 1341.2,359.6 1342.5,353.6C1343.8,347.6 1343.7,348.8 1344.4,346.3C1345.1,343.9 1345.9,341.2 1346.9,338.9C1347.9,336.6 1349.0,334.4 1350.2,332.3C1351.4,330.2 1352.8,328.2 1354.3,326.4C1355.8,324.5 1357.7,322.7 1359.4,321.2C1361.1,319.7 1362.9,318.5 1364.6,317.2C1366.3,315.9 1368.1,314.7 1369.8,313.5C1371.5,312.3 1373.2,311.2 1374.9,310.2C1376.6,309.1 1378.4,308.1 1380.1,307.2C1381.8,306.3 1383.5,305.6 1385.2,305.0C1386.9,304.4 1388.7,303.8 1390.4,303.4C1392.1,302.9 1393.9,302.6 1395.5,302.3C1397.1,302.0 1398.6,301.8 1399.9,301.7C1401.2,301.6 1402.5,301.4 1403.6,301.7C1404.7,301.9 1405.7,302.4 1406.6,303.2C1407.5,304.0 1408.1,305.2 1408.8,306.5C1409.5,307.8 1410.0,309.3 1410.6,310.9C1411.2,312.5 1411.9,314.4 1412.5,316.1C1413.1,317.8 1413.7,319.5 1414.3,321.2C1414.9,322.9 1415.4,324.8 1416.1,326.4C1416.8,328.0 1417.5,329.6 1418.3,330.8C1419.1,332.0 1420.0,332.9 1420.9,333.7C1421.8,334.5 1422.6,335.0 1423.5,335.4C1424.4,335.8 1425.4,335.8 1426.4,335.8C1427.4,335.8 1428.5,335.6 1429.4,335.2C1430.3,334.8 1431.2,334.2 1432.0,333.4C1432.8,332.5 1433.5,331.4 1434.2,330.1C1434.9,328.8 1435.4,327.2 1436.0,325.6C1436.6,324.0 1437.3,322.1 1437.9,320.5C1438.5,318.9 1439.0,317.5 1439.7,316.1C1440.4,314.8 1441.3,313.7 1442.2,312.4C1443.1,311.1 1444.0,309.5 1445.2,308.3C1446.4,307.1 1448.0,305.9 1449.6,305.0C1451.2,304.1 1453.0,303.2 1454.7,302.8C1456.4,302.4 1458.2,302.6 1459.9,302.7C1461.6,302.8 1463.3,303.4 1465.0,303.7C1466.7,304.0 1468.6,304.1 1470.2,304.5C1471.8,304.9 1473.1,305.4 1474.6,305.9C1476.1,306.4 1477.7,307.3 1479.0,307.4C1480.3,307.5 1481.5,307.0 1482.7,306.7C1483.9,306.4 1485.1,305.6 1486.4,305.4C1487.8,305.2 1489.3,305.2 1490.8,305.6C1492.3,306.0 1493.7,307.0 1495.2,307.6C1496.7,308.2 1498.1,308.9 1499.6,309.3C1501.1,309.7 1502.5,309.7 1504.0,310.0C1505.5,310.3 1507.0,310.7 1508.5,311.3C1510.0,311.9 1511.4,312.8 1512.9,313.9C1514.4,315.0 1515.8,316.5 1517.3,317.9C1518.8,319.3 1520.3,321.1 1521.7,322.3C1523.1,323.5 1524.1,324.4 1525.4,324.8C1526.8,325.2 1528.2,324.9 1529.8,324.9C1531.4,324.9 1533.5,324.5 1535.0,324.9C1536.5,325.3 1537.6,326.0 1538.7,327.1C1539.8,328.2 1540.8,329.8 1541.6,331.5C1542.4,333.2 1543.1,335.3 1543.8,337.4C1544.5,339.5 1545.0,341.8 1545.6,344.0C1546.1,346.2 1546.7,348.5 1547.1,350.7C1547.5,352.9 1547.8,355.1 1548.2,357.3C1548.6,359.5 1549.0,361.8 1549.3,363.9C1549.6,366.0 1549.4,366.1 1550.2,370.0C1551.0,373.9 1552.7,381.0 1553.9,387.6C1555.1,394.2 1556.3,403.9 1557.2,409.4C1558.1,414.9 1558.6,417.6 1559.2,420.4C1559.8,423.2 1560.1,426.2 1560.7,426.4C1561.3,426.6 1561.7,424.3 1562.6,421.5C1563.5,418.7 1564.8,415.0 1566.0,409.4C1567.2,403.8 1568.9,393.2 1569.8,387.6C1570.7,382.0 1570.8,379.0 1571.4,375.5C1572.0,372.0 1573.0,368.0 1573.3,366.5"/>
</g>
<text transform="translate(142.30,1168.00) scale(1,1.04)" font-size="70" text-anchor="middle">4000</text>
<text transform="translate(343.20,1168.00) scale(1,1.04)" font-size="70" text-anchor="middle">3500</text>
<text transform="translate(544.11,1168.00) scale(1,1.04)" font-size="70" text-anchor="middle">3000</text>
<text transform="translate(745.02,1168.00) scale(1,1.04)" font-size="70" text-anchor="middle">2500</text>
<text transform="translate(945.92,1168.00) scale(1,1.04)" font-size="70" text-anchor="middle">2000</text>
<text transform="translate(1146.83,1168.00) scale(1,1.04)" font-size="70" text-anchor="middle">1500</text>
<text transform="translate(1347.73,1168.00) scale(1,1.04)" font-size="70" text-anchor="middle">1000</text>
<text transform="translate(1548.63,1168.00) scale(1,1.04)" font-size="70" text-anchor="middle">500</text>
<g clip-path="url(#axclip)"><text transform="translate(536.60,1246.00) scale(0.99,1)" font-size="70">Wava numbers (cm<tspan font-size="47.5" dy="-27.7" dx="-2.4">-1</tspan><tspan dy="27.7" dx="1.6">)</tspan></text></g>
<text transform="translate(71.90,553.60) rotate(-90) scale(1.001,1.012)" font-size="70" text-anchor="middle">Transmittance (a.u.)</text>
<text transform="translate(368.60,947.70) scale(0.98,1)" font-size="45" text-anchor="middle">3449</text>
<text transform="translate(572.00,949.90) scale(0.98,1)" font-size="45" text-anchor="middle">2932</text>
<text transform="translate(1001.60,893.20) scale(0.98,1)" font-size="45" text-anchor="middle">1872</text>
<text transform="translate(1091.70,948.00) scale(0.98,1)" font-size="45" text-anchor="middle">1631</text>
<text transform="translate(1194.60,939.80) scale(0.98,1)" font-size="45" text-anchor="middle">1385</text>
<text transform="translate(1165.10,246.80) scale(0.98,1)" font-size="45" text-anchor="middle">1458</text>
<text transform="translate(1299.30,271.60) scale(0.98,1)" font-size="45" text-anchor="middle">1107</text>
<text transform="translate(1426.00,949.20) scale(0.98,1)" font-size="45" text-anchor="middle">805</text>
<text transform="translate(1529.60,1000.90) scale(0.98,1)" font-size="45" text-anchor="middle">471</text>
<g fill="none" stroke-linecap="round">
<line x1="166.9" y1="69.3" x2="287.5" y2="69.3" stroke="#006fe4" stroke-width="8.0"/>
<line x1="166.3" y1="145.6" x2="288.1" y2="145.6" stroke="#ff3d3d" stroke-width="6.8"/>
<line x1="166.8" y1="222.0" x2="287.6" y2="222.0" stroke="#505050" stroke-width="7.9"/>
</g>
<text transform="translate(299.40,88.00) scale(1,1.055)" font-size="45"><tspan letter-spacing="-0.29">Ru-SiPyR-N3</tspan><tspan dx="1.0"> (0.1 M HNO</tspan><tspan font-size="31" dy="11.6">3</tspan><tspan dy="-11.6" dx="-1.5">+0.1</tspan><tspan dx="1.8"> M NaNO</tspan><tspan font-size="31" dy="11.6">2</tspan><tspan dy="-11.6"> solution)</tspan></text>
<text transform="translate(299.40,164.00) scale(1,1.055)" font-size="45"><tspan letter-spacing="-0.29">Ru-SiPyR-N3</tspan><tspan dx="1.0"> (0.1 M HNO</tspan><tspan font-size="31" dy="11.6">3</tspan><tspan dy="-11.6"> solution)</tspan></text>
<text transform="translate(299.20,240.60) scale(1,1.055)" font-size="45" letter-spacing="-0.29">SiPyR-N3</text>
</svg></body></html>
